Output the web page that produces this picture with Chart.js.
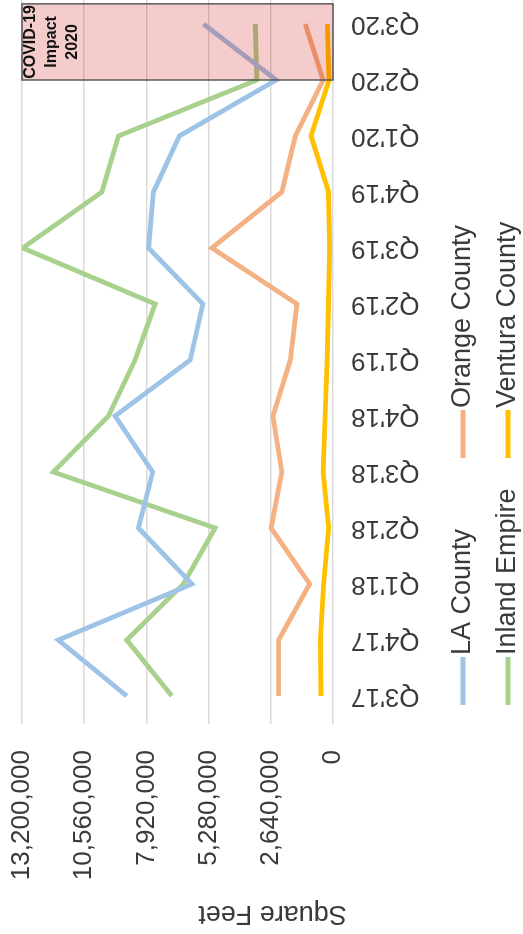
<!DOCTYPE html>
<html>
<head>
<meta charset="utf-8">
<script src="https://cdn.jsdelivr.net/npm/chart.js@4/dist/chart.umd.min.js"></script>
<style>
  html, body { margin: 0; padding: 0; background: #fff; overflow: hidden; width: 523px; height: 934px; }
  /* chart is laid out landscape, then turned a quarter turn to stand upright */
  #wrap { position: absolute; left: 0; top: 0; width: 938px; height: 523px;
          transform-origin: 0 0; transform: translate(0, 934px) rotate(-90deg); }
</style>
</head>
<body>
<div id="wrap"><canvas id="myChart" width="938" height="523"></canvas></div>
<script>
var quarters = ["Q3'17", "Q4'17", "Q1'18", "Q2'18", "Q3'18", "Q4'18", "Q1'19", "Q2'19", "Q3'19", "Q4'19", "Q1'20", "Q2'20", "Q3'20"];

var laCounty      = [8750000, 11660000, 5990000, 8260000, 7650000, 9250000, 6060000, 5520000, 7830000, 7620000, 6520000, 2410000, 5500000];
var orangeCounty  = [2310000, 2310000, 990000, 2630000, 2170000, 2550000, 1810000, 1530000, 5140000, 2170000, 1600000, 420000, 1180000];
var inlandEmpire  = [6840000, 8750000, 6350000, 5000000, 11870000, 9530000, 8400000, 7550000, 13170000, 9810000, 9110000, 3230000, 3300000];
var venturaCounty = [510000, 540000, 400000, 190000, 420000, 330000, 250000, 190000, 140000, 190000, 930000, 170000, 240000];

var yTicks = [0, 2640000, 5280000, 7920000, 10560000, 13200000];

// shaded quarters
var covidStart = quarters.indexOf("Q2'20");
var covidNote = ['COVID-19', 'Impact', '2020'];

var fontFamily = "'Liberation Sans', Arial, sans-serif";
var textColor = '#3a3a3a';

Chart.defaults.font.family = fontFamily;
Chart.defaults.color = textColor;

// red box over the 2020 quarters with its note
var covidBox = {
    id: 'covidBox',
    afterDatasetsDraw: function (chart) {
        var x = chart.scales.x, y = chart.scales.y, ctx = chart.ctx;
        var last = quarters.length - 1;
        var step = x.getPixelForValue(last) - x.getPixelForValue(last - 1);
        var left = x.getPixelForValue(covidStart);
        var right = x.getPixelForValue(last) + step * 0.36;
        var top = y.getPixelForValue(yTicks[yTicks.length - 1]);
        var bottom = y.getPixelForValue(0);
        ctx.save();
        ctx.fillStyle = 'rgba(200, 0, 0, 0.2)';
        ctx.fillRect(left, top, right - left, bottom - top);
        ctx.strokeStyle = '#5a5a5a';
        ctx.lineWidth = 1.5;
        ctx.strokeRect(left, top, right - left, bottom - top);
        ctx.fillStyle = '#111';
        ctx.font = 'bold 16px ' + fontFamily;
        ctx.textAlign = 'center';
        ctx.textBaseline = 'middle';
        covidNote.forEach(function (t, i) {
            ctx.fillText(t, (left + right) / 2, top + 9 + i * 21);
        });
        ctx.restore();
    }
};

// axis title and the two-column legend
var sideText = {
    id: 'sideText',
    afterDraw: function (chart) {
        var ctx = chart.ctx, area = chart.chartArea;
        ctx.save();
        ctx.fillStyle = textColor;
        ctx.font = '27px ' + fontFamily;
        ctx.textAlign = 'center';
        ctx.textBaseline = 'middle';
        ctx.translate(21, (area.top + chart.height) / 2);
        ctx.rotate(-Math.PI / 2);
        ctx.fillText('Square Feet', 0, 0);
        ctx.restore();

        ctx.save();
        ctx.font = '27px ' + fontFamily;
        ctx.textAlign = 'left';
        ctx.textBaseline = 'middle';
        chart.data.datasets.forEach(function (ds, i) {
            var x0 = 229 + (i % 2) * 247;
            var yc = 463 + Math.floor(i / 2) * 45;
            ctx.strokeStyle = ds.borderColor;
            ctx.lineWidth = 4.8;
            ctx.beginPath();
            ctx.moveTo(x0, yc);
            ctx.lineTo(x0 + 48, yc);
            ctx.stroke();
            ctx.fillStyle = textColor;
            ctx.fillText(ds.label, x0 + 50, yc);
        });
        ctx.restore();
    }
};

new Chart('myChart', {
    type: 'line',
    data: {
        labels: quarters,
        datasets: [
            { label: 'LA County', data: laCounty, borderColor: '#9dc3e6' },
            { label: 'Orange County', data: orangeCounty, borderColor: '#f4b183' },
            { label: 'Inland Empire', data: inlandEmpire, borderColor: '#a9d18e' },
            { label: 'Ventura County', data: venturaCounty, borderColor: '#ffc000' }
        ]
    },
    options: {
        responsive: false,
        animation: false,
        layout: { padding: { top: 22, left: 0, right: 0, bottom: 0 } },
        elements: {
            point: { radius: 0 },
            line: { borderWidth: 4.8, tension: 0, fill: false }
        },
        plugins: {
            legend: { display: false },
            tooltip: { enabled: false }
        },
        scales: {
            x: {
                offset: true,
                grid: { display: false, drawTicks: false },
                border: { display: false },
                ticks: { autoSkip: false, minRotation: 90, maxRotation: 90, padding: 18, font: { size: 26 } },
                afterFit: function (scale) {
                    scale.height = 190;
                    scale.paddingLeft = 0;
                    scale.paddingRight = 0;
                }
            },
            y: {
                min: 0,
                max: 13200000,
                grid: { color: '#d9d9d9', lineWidth: 1.5, drawTicks: false },
                border: { display: false },
                afterBuildTicks: function (scale) {
                    scale.ticks = yTicks.map(function (v) { return { value: v }; });
                },
                ticks: {
                    padding: 26,
                    font: { size: 26 },
                    callback: function (v) { return v.toLocaleString('en-US'); }
                },
                afterFit: function (scale) {
                    scale.width = 210;
                    scale.paddingTop = 0;
                    scale.paddingBottom = 0;
                }
            }
        }
    },
    plugins: [covidBox, sideText]
});
</script>
</body>
</html>
